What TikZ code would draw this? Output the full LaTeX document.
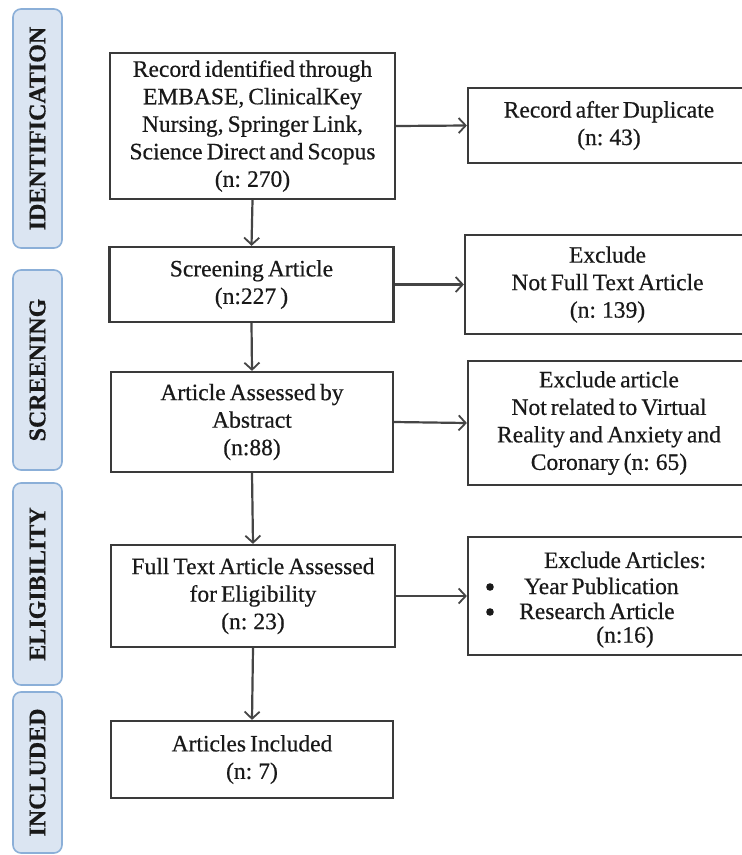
\documentclass[tikz,border=0pt]{standalone}
\usepackage{fontspec}
\setmainfont{Liberation Serif}[FakeBold=0.5, WordSpace=0.7]
\usetikzlibrary{arrows.meta}
\definecolor{boxline}{HTML}{3A3A3A}
\definecolor{arrline}{HTML}{454545}
\definecolor{sidefill}{HTML}{DBE5F2}
\definecolor{sideline}{HTML}{8BAFD8}
\tikzset{
  flowbox/.style={draw=boxline, line width=2.2pt, rectangle, align=center, inner sep=0pt,
    font=\fontsize{23.5}{27.5}\selectfont, text=black!90},
  sidebox/.style={draw=sideline, fill=sidefill, line width=1.6pt, rounded corners=8pt,
    minimum width=49pt, inner sep=0pt},
  sidetext/.style={rotate=90, font=\fontsize{24}{26}\selectfont\bfseries, text=black!90},
  flowarrow/.style={draw=arrline, line width=2.2pt, -{Straight Barb[length=7pt,width=15pt,line width=1.8pt]}},
  plain/.style={font=\fontsize{23.5}{27.5}\selectfont, text=black!90, inner sep=0pt},
  bulletdot/.style={fill=black!90}
}
\begin{document}
\begin{tikzpicture}[x=1pt,y=-1pt]
\clip (0,0) rectangle (742,855);
\fill[white] (0,0) rectangle (742,855);
% side labels
\node[sidebox, minimum height=239pt] (sid) at (37.5,128.5) {};
\node[sidetext] (tid) at (sid.center) {IDENTIFICATION};
\node[sidebox, minimum height=200pt] (ssc) at (37.5,370) {};
\node[sidetext] (tsc) at (ssc.center) {SCREENING};
\node[sidebox, minimum height=202pt] (sel) at (37.5,584) {};
\node[sidetext] (tel) at (sel.center) {ELIGIBILITY};
\node[sidebox, minimum height=161pt] (sin) at (37.5,772.5) {};
\node[sidetext] (tin) at (sin.center) {INCLUDED};
% main column
\node[flowbox, minimum width=285pt, minimum height=146pt] (b1) at (252.5,126)
  {Record identified through\\EMBASE, ClinicalKey\\Nursing, Springer Link,\\Science Direct and Scopus\\(n: 270)};
\node[flowbox, minimum width=284pt, minimum height=75pt] (b2) at (251.5,284.5)
  {Screening Article\\(n:227 )};
\node[flowbox, minimum width=282pt, minimum height=100pt] (b3) at (252,422)
  {Article Assessed by\\Abstract\\(n:88)};
\node[flowbox, minimum width=284pt, minimum height=102pt] (b4) at (253,596)
  {Full Text Article Assessed\\for Eligibility\\(n: 23)};
\node[flowbox, minimum width=282pt, minimum height=77pt] (b5) at (252,759.5)
  {Articles Included\\(n: 7)};
% right column
\node[flowbox, minimum width=282pt, minimum height=75pt] (r1) at (609,125.5)
  {Record after Duplicate\\(n: 43)};
\node[flowbox, minimum width=285pt, minimum height=99pt] (r2) at (607.5,284.5)
  {Exclude\\Not Full Text Article\\(n: 139)};
\node[flowbox, minimum width=282pt, minimum height=124pt] (r3) at (609,423)
  {Exclude article\\Not related to Virtual\\Reality and Anxiety and\\Coronary (n: 65)};
\node[flowbox, minimum width=282pt, minimum height=118pt] (r4) at (609,596) {};
\node[plain] (r4a) at (625,560) {Exclude Articles:};
\node[plain, anchor=west] (r4b) at (524,586) {Year Publication};
\node[plain, anchor=west] (r4c) at (519,611) {Research Article};
\node[plain] (r4d) at (625,637) {(n:16)};
\coordinate (dot1) at (490,587);
\coordinate (dot2) at (490,612);
\fill[bulletdot] (dot1) circle (3.8pt);
\fill[bulletdot] (dot2) circle (3.8pt);
% arrows
\draw[flowarrow] (b1.south) -- (b2.north);
\draw[flowarrow] (b2.south) -- (b3.north);
\draw[flowarrow] (b3.south) -- (b4.north);
\draw[flowarrow] (b4.south) -- (b5.north);
\draw[flowarrow] (b1.east) -- (r1.west);
\draw[flowarrow] (b2.east) -- (r2.west);
\draw[flowarrow] (b3.east) -- (r3.west);
\draw[flowarrow] (b4.east) -- (r4.west);
\end{tikzpicture}
\end{document}
